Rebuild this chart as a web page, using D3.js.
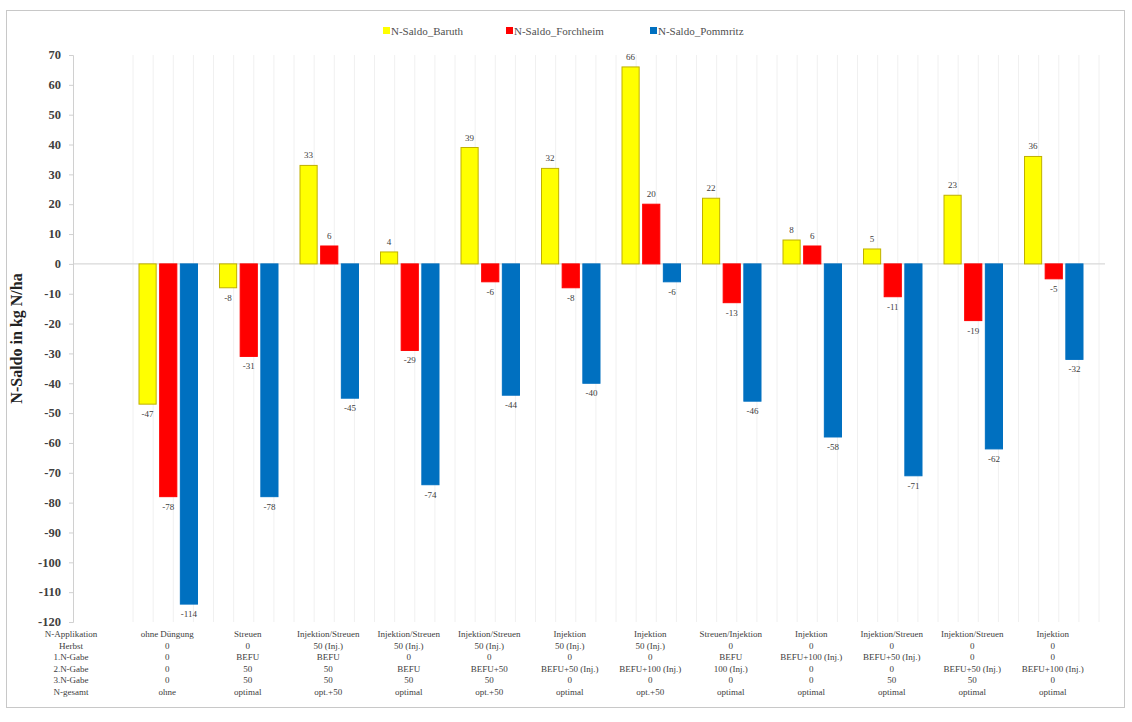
<!DOCTYPE html>
<html><head><meta charset="utf-8">
<script src="https://cdn.jsdelivr.net/npm/d3@7"></script>
<style>body{margin:0;background:#fff}svg{display:block}</style>
</head><body><svg id="c" width="1132" height="722"></svg>
<script>
const categories = ["ohne Düngung","Streuen","Injektion/Streuen","Injektion/Streuen","Injektion/Streuen","Injektion","Injektion","Streuen/Injektion","Injektion","Injektion/Streuen","Injektion/Streuen","Injektion"];
const seriesNames = ["N-Saldo_Baruth","N-Saldo_Forchheim","N-Saldo_Pommritz"];
const baruth = [-47,-8,33,4,39,32,66,22,8,5,23,36];
const forchheim = [-78,-31,6,-29,-6,-8,20,-13,6,-11,-19,-5];
const pommritz = [-114,-78,-45,-74,-44,-40,-6,-46,-58,-71,-62,-32];
const yTicks = [70,60,50,40,30,20,10,0,-10,-20,-30,-40,-50,-60,-70,-80,-90,-100,-110,-120];
const rowLabels = ["N-Applikation","Herbst","1.N-Gabe","2.N-Gabe","3.N-Gabe","N-gesamt"];
const rowHerbst = ["0","0","50 (Inj.)","50 (Inj.)","50 (Inj.)","50 (Inj.)","50 (Inj.)","0","0","0","0","0"];
const rowGabe1 = ["0","BEFU","BEFU","0","0","0","0","BEFU","BEFU+100 (Inj.)","BEFU+50 (Inj.)","0","0"];
const rowGabe2 = ["0","50","50","BEFU","BEFU+50","BEFU+50 (Inj.)","BEFU+100 (Inj.)","100 (Inj.)","0","0","BEFU+50 (Inj.)","BEFU+100 (Inj.)"];
const rowGabe3 = ["0","50","50","50","50","0","0","0","0","50","50","0"];
const rowGesamt = ["ohne","optimal","opt.+50","optimal","opt.+50","optimal","opt.+50","optimal","optimal","optimal","optimal","optimal"];
const colors = ["#FFFF00","#FF0000","#0070C0"];
const strokes = ["#BFB000","#FF0000","#0070C0"];

const svg = d3.select("#c");
const serif = "'Liberation Serif','Times New Roman',serif";

// chart border
svg.append("rect").attr("x",6.5).attr("y",10.5).attr("width",1118).attr("height",697)
  .attr("fill","none").attr("stroke","#c8c8c8").attr("stroke-width",1);

const y = d3.scaleLinear().domain([-120,70]).range([622,55]);
const x = d3.scaleBand().domain(d3.range(categories.length)).range([127,1093]).paddingInner(0).paddingOuter(0);
const inner = d3.scaleBand().domain([0,1,2]).range([12,x.bandwidth()-10]).paddingInner(0.17);
const plotL = 73, plotR = 1105;

// vertical faint gridlines
const gl = [];
for (let i=0;i<categories.length;i++){ for(let k=0;k<4;k++){ gl.push(x(i)+k*x.bandwidth()/4+6); } }
gl.push(x(categories.length-1)+x.bandwidth()+6);
svg.append("g").selectAll("line").data(gl).join("line")
  .attr("x1",d=>d).attr("x2",d=>d).attr("y1",y(70)).attr("y2",y(-120))
  .attr("stroke","#f0f0f0").attr("stroke-width",1);

// zero line
svg.append("line").attr("x1",plotL).attr("x2",plotR).attr("y1",y(0)).attr("y2",y(0))
  .attr("stroke","#d9d9d9").attr("stroke-width",1.2);

// y axis
const yAxis = d3.axisLeft(y).tickValues(yTicks).tickFormat(d=>String(d)).tickSize(4).tickPadding(8);
const ga = svg.append("g").attr("transform",`translate(${plotL},0)`).call(yAxis);
ga.select(".domain").attr("stroke","#d0d0d0");
ga.selectAll(".tick line").attr("stroke","#d0d0d0");
ga.selectAll(".tick text").attr("font-family",serif).attr("font-weight","bold")
  .attr("font-size",12.5).attr("fill","#404040").attr("dy","0.3em");

// y title
svg.append("text").attr("transform",`translate(22,${y(-25)}) rotate(-90)`)
  .attr("text-anchor","middle").attr("font-family",serif).attr("font-weight","bold")
  .attr("font-size",16).attr("fill","#222").text("N-Saldo in kg N/ha");

// bars
const series = [baruth, forchheim, pommritz];
series.forEach((vals, s) => {
  const g = svg.append("g");
  g.selectAll("rect").data(vals).join("rect")
    .attr("x",(d,i)=>x(i)+inner(s))
    .attr("width",inner.bandwidth())
    .attr("y",d=>y(Math.max(0,d)))
    .attr("height",d=>Math.abs(y(d)-y(0)))
    .attr("fill",colors[s]).attr("stroke",strokes[s]).attr("stroke-width",1);
  g.selectAll("text").data(vals).join("text")
    .attr("x",(d,i)=>x(i)+inner(s)+inner.bandwidth()/2)
    .attr("y",d=> d>=0 ? y(d)-7 : y(d)+13)
    .attr("text-anchor","middle").attr("font-family",serif).attr("font-size",9)
    .attr("fill","#404040").text(d=>String(d));
});

// legend
const legX = [383, 506, 650];
const leg = svg.append("g");
seriesNames.forEach((n,i)=>{
  leg.append("rect").attr("x",legX[i]).attr("y",27).attr("width",7).attr("height",7).attr("fill",colors[i]);
  leg.append("text").attr("x",legX[i]+8).attr("y",34.5).attr("font-family",serif).attr("font-size",11)
    .attr("fill","#505050").text(n);
});

// table under axis
const rows = [categories, rowHerbst, rowGabe1, rowGabe2, rowGabe3, rowGesamt];
const rowY = [637, 648.6, 660.2, 671.8, 683.4, 695];
const tbl = svg.append("g").attr("font-family",serif).attr("font-size",9).attr("fill","#404040").attr("text-anchor","middle");
rowLabels.forEach((l,r)=>{
  tbl.append("text").attr("x",71).attr("y",rowY[r]).text(l);
});
rows.forEach((row,r)=>{
  tbl.append("g").selectAll("text").data(row).join("text")
    .attr("x",(d,i)=>x(i)+x.bandwidth()/2).attr("y",rowY[r]).text(d=>d);
});
</script></body></html>
